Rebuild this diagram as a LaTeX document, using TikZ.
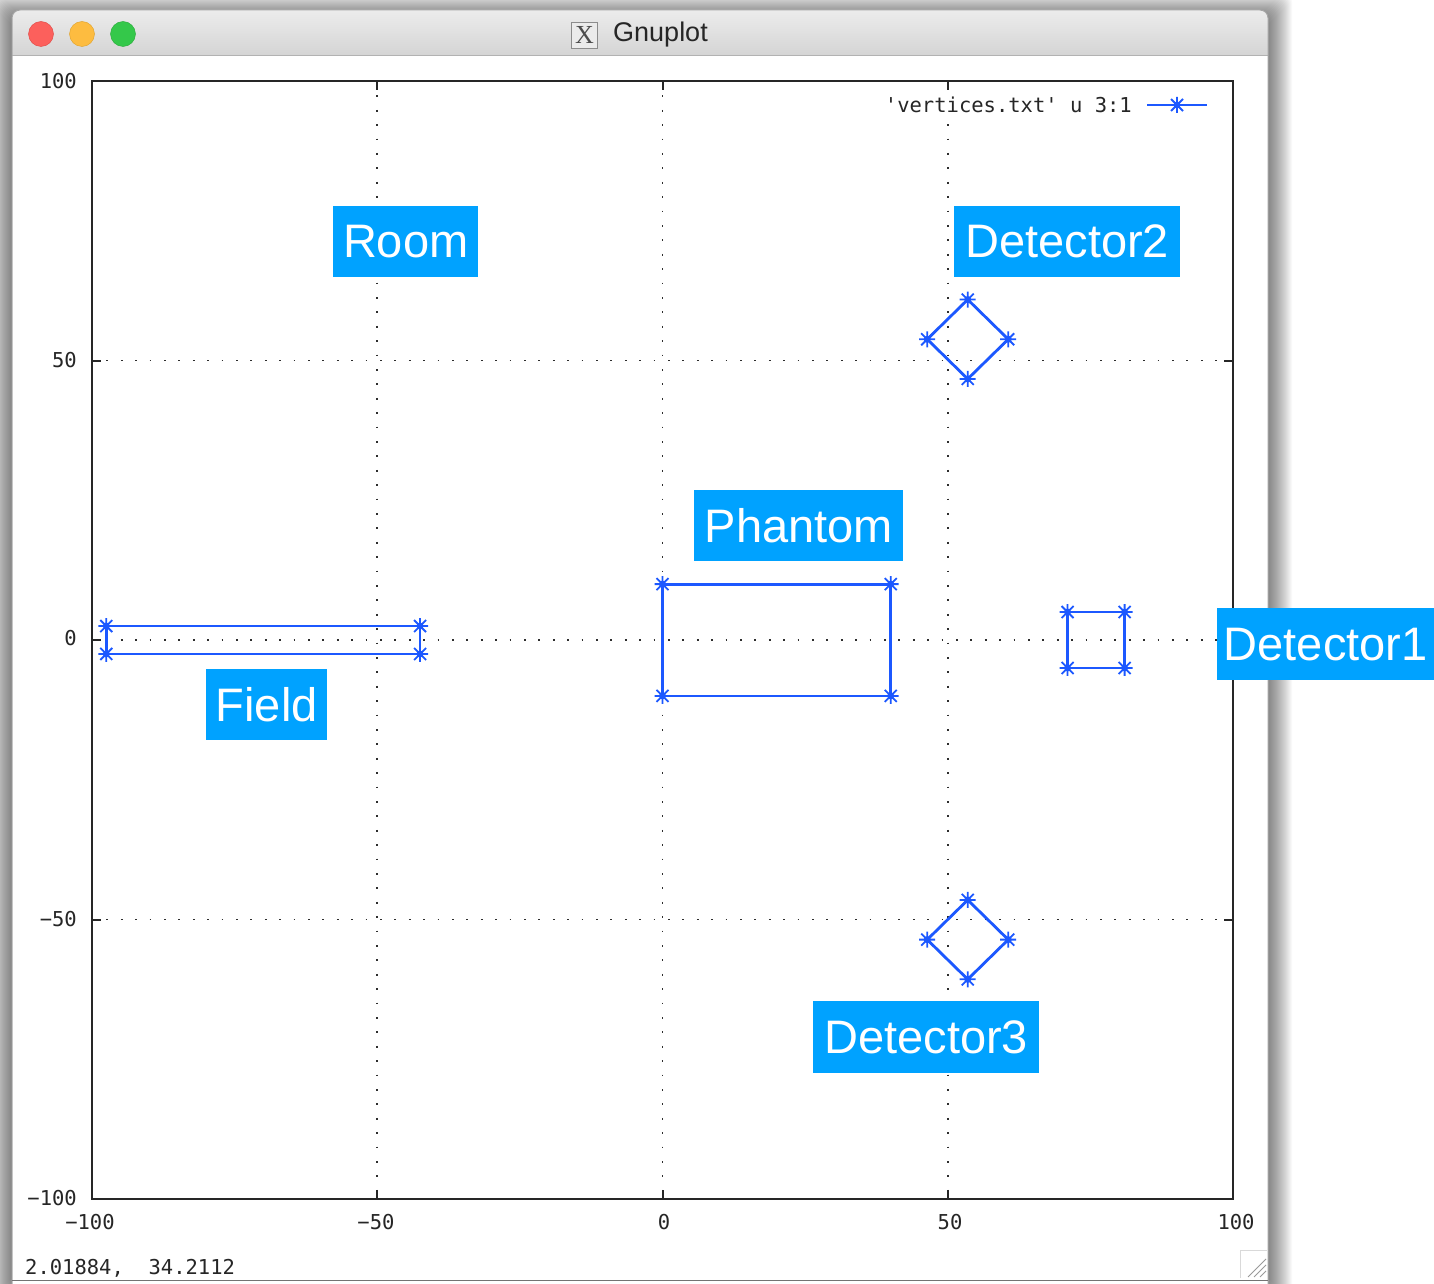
\documentclass[tikz,border=0pt]{standalone}
\usepackage{fontspec}
\setmainfont{Liberation Sans}
\newfontfamily\plotfont{DejaVu Sans Mono}
\newfontfamily\iconfont{Liberation Serif}
\definecolor{plotblue}{RGB}{28,88,255}
\definecolor{tagblue}{RGB}{0,162,255}
\definecolor{gridgray}{RGB}{45,45,45}
\definecolor{barTop}{RGB}{236,236,236}
\definecolor{barBottom}{RGB}{212,212,212}
\tikzset{
  dataline/.style={plotblue, line width=2.8pt, line join=miter},
  gridline/.style={gridgray, line width=1.8pt, dash pattern=on 1.8pt off 12.6pt},
  frameline/.style={black!85, line width=2pt},
  tag/.style={fill=tagblue, text=white, inner sep=0pt, minimum height=71pt,
    anchor=north west, font=\fontsize{47}{47}\selectfont},
  plottext/.style={inner sep=0pt, text=black!85, font=\plotfont\fontsize{20.5}{20.5}\selectfont},
  vertex/.pic={
    \draw[plotblue, line width=1.8pt] (-8pt,0pt) -- (8pt,0pt) (0pt,-8pt) -- (0pt,8pt)
      (-6pt,-6pt) -- (6pt,6pt) (-6pt,6pt) -- (6pt,-6pt);
    \fill[plotblue] (0pt,0pt) circle (3.5pt);
  }
}
\begin{document}
\begin{tikzpicture}[x=1pt, y=-1pt]
  \path[use as bounding box] (0,0) rectangle (1434,1284);
  \clip (0,0) rectangle (1434,1284);
  \fill[white] (0,0) rectangle (1434,1284);

  % soft drop shadow of the window
  \foreach \i in {1,...,24}
    \fill[black, opacity=0.024, rounded corners=10pt]
      ({12-\i},{16-\i}) rectangle ({1268+\i},{1286+\i});

  % window body and title bar
  \fill[white] (12,56) rectangle (1268,1284);
  \shade[top color=barTop, bottom color=barBottom]
    (12,56) [rounded corners=8pt] -- (12,10) -- (1268,10) [sharp corners] -- (1268,56) -- cycle;
  \draw[black!30, line width=1pt] (12,56) -- (1268,56);
  \draw[black!35, line width=1pt]
    (12,1284) [rounded corners=8pt] -- (12,10) -- (1268,10) [sharp corners] -- (1268,1284);
  \draw[black!55, line width=1.5pt] (12,1280.5) -- (1268,1280.5);

  % traffic lights
  \node[circle, minimum size=25pt, inner sep=0pt, fill={rgb,255:red,252;green,96;blue,92}, draw={rgb,255:red,222;green,70;blue,66}] (close) at (41,34) {};
  \node[circle, minimum size=25pt, inner sep=0pt, fill={rgb,255:red,253;green,188;blue,64}, draw={rgb,255:red,222;green,160;blue,40}] (minimize) at (82,34) {};
  \node[circle, minimum size=25pt, inner sep=0pt, fill={rgb,255:red,52;green,200;blue,74}, draw={rgb,255:red,40;green,168;blue,56}] (zoom) at (123,34) {};

  % title
  \node[draw=black!45, fill=black!8, minimum width=26pt, minimum height=26pt, inner sep=0pt,
        font=\iconfont\fontsize{26}{26}\selectfont, text=black!70] (xicon) at (584.5,35) {X};
  \node[font=\fontsize{27}{27}\selectfont, text=black!85, anchor=west, inner sep=0pt] (title) at (613,35) {Gnuplot};

  % grid
  \foreach \gx in {377.2,662.5,947.8}
    \draw[gridline] (\gx,81) -- (\gx,1199);
  \foreach \gy in {360.5,640,919.5}
    \draw[gridline] (92,\gy) -- (1233,\gy);

  % frame and tics
  \draw[frameline] (92,81) rectangle (1233,1199);
  \foreach \gx in {377.2,662.5,947.8} {
    \draw[frameline] (\gx,81) -- (\gx,90);
    \draw[frameline] (\gx,1199) -- (\gx,1190);
  }
  \foreach \gy in {360.5,640,919.5} {
    \draw[frameline] (92,\gy) -- (101,\gy);
    \draw[frameline] (1233,\gy) -- (1224,\gy);
  }

  % tic labels
  \node[plottext, anchor=east] (y100) at (77,81) {100};
  \node[plottext, anchor=east] (y50)  at (77,360) {50};
  \node[plottext, anchor=east] (y0)   at (77,638) {0};
  \node[plottext, anchor=east] (ym50) at (77,919) {−50};
  \node[plottext, anchor=east] (ym100) at (77,1198) {−100};
  \node[plottext] (xm100) at (90,1222) {−100};
  \node[plottext] (xm50)  at (376,1222) {−50};
  \node[plottext] (x0)    at (664,1222) {0};
  \node[plottext] (x50)   at (950,1222) {50};
  \node[plottext] (x100)  at (1236,1222) {100};

  % key
  \fill[white] (880,94) rectangle (1140,117);
  \node[plottext, anchor=east] (keytext) at (1132,105) {'vertices.txt' u 3:1};
  \draw[plotblue, line width=2.2pt] (1147,105) -- (1207,105);
  \pic at (1177,105) {vertex};

  % status line and resize grip
  \node[plottext, anchor=west] (status) at (25,1268) {2.01884,\ \ 34.2112};
  \draw[black!15, line width=1pt] (1240,1278) -- (1240,1250) -- (1267,1250);
  \foreach \d in {6,12,18}
    \draw[black!40, line width=1pt] ({1266-\d},1277) -- (1266,{1277-\d});

  % geometry outlines (data coordinates)
  \begin{scope}[shift={(662.5,640)}, x=5.705pt, y=5.59pt]
    \draw[dataline] (-97.5,2.5) -- (-42.5,2.5) -- (-42.5,-2.5) -- (-97.5,-2.5) -- cycle;
    \foreach \p in {(-97.5,2.5),(-42.5,2.5),(-42.5,-2.5),(-97.5,-2.5)}
      \pic at \p {vertex};
    \draw[dataline] (0,10) -- (40,10) -- (40,-10) -- (0,-10) -- cycle;
    \foreach \p in {(0,10),(40,10),(40,-10),(0,-10)}
      \pic at \p {vertex};
    \draw[dataline] (71,5) -- (81,5) -- (81,-5) -- (71,-5) -- cycle;
    \foreach \p in {(71,5),(81,5),(81,-5),(71,-5)}
      \pic at \p {vertex};
    \draw[dataline] (53.5,60.9) -- (60.6,53.8) -- (53.5,46.7) -- (46.4,53.8) -- cycle;
    \foreach \p in {(53.5,60.9),(60.6,53.8),(53.5,46.7),(46.4,53.8)}
      \pic at \p {vertex};
    \draw[dataline] (53.5,-46.5) -- (60.6,-53.6) -- (53.5,-60.7) -- (46.4,-53.6) -- cycle;
    \foreach \p in {(53.5,-46.5),(60.6,-53.6),(53.5,-60.7),(46.4,-53.6)}
      \pic at \p {vertex};
  \end{scope}

  % labels
  \node[tag, minimum width=145pt] (room) at (333,206) {Room};
  \node[tag, minimum width=226pt] (det2) at (954,206) {Detector2};
  \node[tag, minimum width=209pt] (phantom) at (694,490) {Phantom};
  \node[tag, minimum width=217pt, minimum height=72pt] (det1) at (1217,608) {Detector1};
  \node[tag, minimum width=121pt] (field) at (206,669) {Field};
  \node[tag, minimum width=226pt, minimum height=72pt] (det3) at (813,1001) {Detector3};
\end{tikzpicture}
\end{document}
